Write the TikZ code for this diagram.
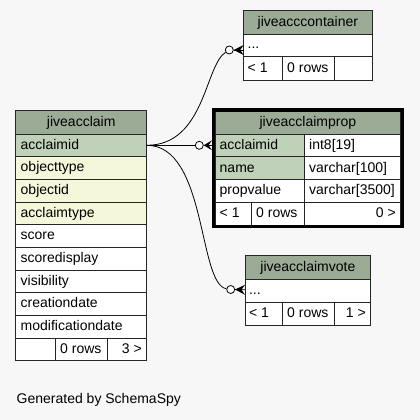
\documentclass[tikz,border=0pt]{standalone}
\usepackage{fontspec}
\setmainfont{Liberation Sans}
\usepackage{tikz}
\usetikzlibrary{calc}
\definecolor{bgc}{HTML}{F7F7F7}
\definecolor{hdrc}{HTML}{9BAB96}
\definecolor{pkc}{HTML}{BFD1B8}
\definecolor{idxc}{HTML}{F4F7DA}
\tikzset{
	cell/.style={draw=black!85, line width=0.9pt},
	field/.style={anchor=base west, inner sep=0pt},
	fieldr/.style={anchor=base east, inner sep=0pt},
	title/.style={anchor=base, inner sep=0pt},
	odot/.style={circle, draw, fill=white, line width=0.8pt, minimum size=8pt, inner sep=0pt},
	edge/.style={line width=0.8pt}
}
\def\crow(#1)(#2){\fill[black] (#1) -- ($(#2)+(0,-5)$) -- ($(#2)+(-3.5,0)$) -- ($(#2)+(0,5)$) -- cycle; \draw[edge] (#1) -- (#2);}

\begin{document}
\begin{tikzpicture}[x=1pt, y=-1pt, font=\fontsize{14}{16}\selectfont]
	%%%%% START %%%%%
	\fill[bgc] (0,0) rectangle (420,420);
	\useasboundingbox (0,0) rectangle (420,420);
	
	% jiveacclaim
	\draw[cell, fill=hdrc] (15.7,110.7) rectangle (146.7,134);
	\node[title] (acclaim-title) at (81.2,126.2) {jiveacclaim};
	\foreach \name/\clr [count=\i] in {acclaimid/pkc, objecttype/idxc, objectid/idxc, acclaimtype/idxc, score/white, scoredisplay/white, visibility/white, creationdate/white, modificationdate/white} {
		\pgfmathsetmacro\ytop{134+(\i-1)*22.67}
		\pgfmathsetmacro\ybot{\ytop+22.67}
		\draw[cell, fill=\clr] (15.7,\ytop) rectangle (146.7,\ybot);
		\node[field] (acclaim-\name) at (20.5,\ybot-7.6) {\name};
	}
	\draw[cell, fill=white] (15.7,338) rectangle (55.7,360.7);
	\draw[cell, fill=white] (55.7,338) rectangle (107.7,360.7);
	\draw[cell, fill=white] (107.7,338) rectangle (146.7,360.7);
	\node[field] (acclaim-rows) at (60,353.1) {0 rows};
	\node[fieldr] (acclaim-children) at (142,353.1) {3 >};
	
	% jiveacccontainer
	\draw[cell, fill=hdrc] (243.7,10.7) rectangle (372,34.3);
	\node[title] (container-title) at (307.85,26.2) {jiveacccontainer};
	\draw[cell, fill=white] (243.7,34.3) rectangle (372,56.7);
	\node[field] (container-dots) at (247.5,48.9) {...};
	\draw[cell, fill=white] (243.7,56.7) rectangle (282.7,80);
	\draw[cell, fill=white] (282.7,56.7) rectangle (334.7,80);
	\draw[cell, fill=white] (334.7,56.7) rectangle (372,80);
	\node[field] (container-parents) at (247.5,72.3) {< 1};
	\node[field] (container-rows) at (287,72.3) {0 rows};
	
	% jiveacclaimprop
	\draw[cell, fill=hdrc] (215,111.7) rectangle (400.7,134.7);
	\node[title] (prop-title) at (307.85,126.8) {jiveacclaimprop};
	\draw[cell, fill=pkc] (215,134.7) rectangle (304.3,156.7);
	\draw[cell, fill=white] (304.3,134.7) rectangle (400.7,156.7);
	\draw[cell, fill=pkc] (215,156.7) rectangle (304.3,179.7);
	\draw[cell, fill=white] (304.3,156.7) rectangle (400.7,179.7);
	\draw[cell, fill=white] (215,179.7) rectangle (304.3,202);
	\draw[cell, fill=white] (304.3,179.7) rectangle (400.7,202);
	\draw[cell, fill=white] (215,202) rectangle (251.7,225);
	\draw[cell, fill=white] (251.7,202) rectangle (304.3,225);
	\draw[cell, fill=white] (304.3,202) rectangle (400.7,225);
	\node[field] (prop-acclaimid) at (219.5,149.1) {acclaimid};
	\node[field] (prop-acclaimid-type) at (309,149.1) {int8[19]};
	\node[field] (prop-name) at (219.5,172) {name};
	\node[field] (prop-name-type) at (309,172) {varchar[100]};
	\node[field] (prop-propvalue) at (219.5,194.4) {propvalue};
	\node[field] (prop-propvalue-type) at (309,194.4) {varchar[3500]};
	\node[field] (prop-parents) at (219.5,217.3) {< 1};
	\node[field] (prop-rows) at (256,217.3) {0 rows};
	\node[fieldr] (prop-children) at (396,217.3) {0 >};
	\draw[line width=3.5pt] (213.4,109.8) rectangle (402.3,226.6);
	
	% jiveacclaimvote
	\draw[cell, fill=hdrc] (245,255.7) rectangle (370.7,279.3);
	\node[title] (vote-title) at (307.85,271.2) {jiveacclaimvote};
	\draw[cell, fill=white] (245,279.3) rectangle (370.7,302);
	\node[field] (vote-dots) at (248.8,294.2) {...};
	\draw[cell, fill=white] (245,302) rectangle (282.7,325);
	\draw[cell, fill=white] (282.7,302) rectangle (334.7,325);
	\draw[cell, fill=white] (334.7,302) rectangle (370.7,325);
	\node[field] (vote-parents) at (248.8,317.3) {< 1};
	\node[field] (vote-rows) at (287,317.3) {0 rows};
	\node[fieldr] (vote-children) at (366,317.3) {1 >};
	
	% relations
	\coordinate (acclaim-out) at (146.7,145.3);
	\coordinate (container-in) at (243.7,50);
	\coordinate (prop-in) at (212,145.3);
	\coordinate (vote-in) at (245,289.8);
	\node[odot] (odot-container) at (229.3,50) {};
	\node[odot] (odot-prop) at (199.3,145.3) {};
	\node[odot] (odot-vote) at (230.7,289.5) {};
	\draw[edge] (acclaim-out) .. controls (205,145.3) and (205,65) .. (odot-container);
	\draw[edge] (acclaim-out) -- (odot-prop);
	\draw[edge] (acclaim-out) .. controls (207,145.3) and (198,284) .. (odot-vote);
	\crow(odot-container.east)(container-in)
	\crow(odot-prop.east)(prop-in)
	\crow(odot-vote.east)(vote-in)
	
	\node[field] (footer) at (16.5,403.3) {Generated by SchemaSpy};
	%%%%% END %%%%%
\end{tikzpicture}
\end{document}
